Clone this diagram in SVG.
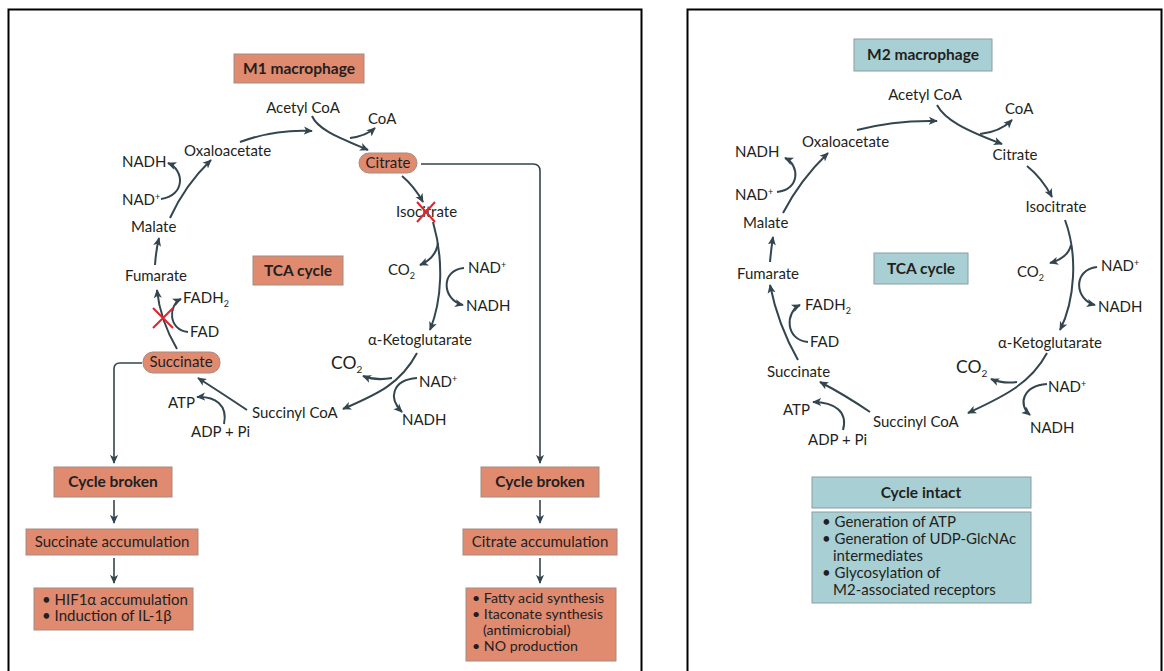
<svg xmlns="http://www.w3.org/2000/svg" width="1164" height="671" viewBox="0 0 1164 671">
<defs>
<marker id="ah" viewBox="0 0 10 10" refX="9" refY="5" markerWidth="9" markerHeight="9" orient="auto" markerUnits="userSpaceOnUse">
<path d="M0,0.5 L10,5 L0,9.5 L2.5,5 z" fill="#33454e"/>
</marker>
<style>
.t{font-family:Lato,"Open Sans","Liberation Sans",sans-serif;font-size:15px;fill:#231f20}
.b{font-weight:bold;font-size:15.5px}
.c{text-anchor:middle}
.big{font-size:17.5px}
.sm{font-size:14.2px}
.red{fill:#e08a70;stroke:#a58a80;stroke-width:1}
.blue{fill:#a8cfd4;stroke:#8a9ea2;stroke-width:1}
.ar{fill:none;stroke:#33454e;stroke-width:2;marker-end:url(#ah)}
.fl{fill:none;stroke:#33454e;stroke-width:1.6;marker-end:url(#ah)}
.x{stroke:#e0242a;stroke-width:2;fill:none}
.panel{fill:none;stroke:#000;stroke-width:2}
</style>
</defs>
<rect width="1164" height="671" fill="#fff"/>
<rect class="panel" x="8.5" y="9.5" width="633" height="700"/>
<rect class="panel" x="687.5" y="9.5" width="474" height="700"/>

<!-- Connectors -->
<g id="connectors">
<!-- left cycle -->
<path class="ar" d="M240,142 Q275,129 312,131"/>
<path class="ar" d="M312,116 C318,130 340,138 368,150"/>
<path class="ar" d="M350,138 Q366,136 375,128"/>
<path class="ar" d="M402,176 Q414,186 423,202"/>
<path class="ar" d="M433,222 C444,260 442,300 430,330"/>
<path class="ar" d="M438,243 Q436,258 420,265"/>
<path class="ar" d="M464,268 C440,270 442,300 463,305"/>
<path class="ar" d="M417,353 C400,385 375,395 343,409"/>
<path class="ar" d="M392,378 Q376,381 363,376"/>
<path class="ar" d="M417,378 C392,380 388,398 402,412"/>
<path class="ar" d="M247,410 Q220,392 198,378"/>
<path class="ar" d="M224,424 C228,405 215,396 197,397"/>
<path class="ar" d="M177,349 Q160,320 157,290"/>
<path class="ar" d="M188,332 C168,330 168,305 181,299"/>
<path class="ar" d="M155,265 Q156,250 159,238"/>
<path class="ar" d="M170,218 Q185,185 211,160"/>
<path class="ar" d="M161,199 C185,196 185,170 168,163"/>
<!-- left branches -->
<path class="fl" d="M142,363 L120,363 Q114,363 114,369 L114,463"/>
<path class="fl" d="M421,164 L533,164 Q540,164 540,171 L540,463"/>
<path class="fl" d="M114,500 L114,523"/>
<path class="fl" d="M114,558 L114,583"/>
<path class="fl" d="M540,500 L540,523"/>
<path class="fl" d="M540,558 L540,583"/>
<!-- right cycle -->
<path class="ar" d="M857,130 Q895,120 937,121"/>
<path class="ar" d="M937,105 C945,120 965,130 1002,144"/>
<path class="ar" d="M980,134 Q1000,132 1012,120"/>
<path class="ar" d="M1027,166 Q1042,178 1052,197"/>
<path class="ar" d="M1065,220 C1078,255 1075,300 1060,330"/>
<path class="ar" d="M1071,245 Q1068,258 1050,263"/>
<path class="ar" d="M1097,267 C1072,270 1075,300 1095,305"/>
<path class="ar" d="M1047,353 C1030,385 1000,398 968,413"/>
<path class="ar" d="M1017,382 Q1003,384 991,379"/>
<path class="ar" d="M1047,384 C1022,386 1018,405 1030,415"/>
<path class="ar" d="M870,412 Q845,395 820,382"/>
<path class="ar" d="M843,430 C848,412 835,402 813,402"/>
<path class="ar" d="M798,360 Q778,325 770,285"/>
<path class="ar" d="M808,342 C785,340 785,312 800,305"/>
<path class="ar" d="M770,262 Q771,250 773,237"/>
<path class="ar" d="M783,213 Q800,180 828,153"/>
<path class="ar" d="M777,192 C800,190 800,165 785,158"/>
</g>

<!-- Left panel nodes -->
<g id="m1-title"><rect class="red" x="234" y="54" width="130" height="29"/><text class="t b c" x="299" y="74">M1 macrophage</text></g>
<g id="m1-tca"><rect class="red" x="253" y="256" width="90" height="29"/><text class="t b c" x="298" y="276">TCA cycle</text></g>
<g id="m1-acetylcoa"><text class="t c" x="303" y="113">Acetyl CoA</text></g>
<g id="m1-coa"><text class="t" x="368" y="124">CoA</text></g>
<g id="m1-citrate"><rect class="red" x="359" y="153" width="58" height="20" rx="10"/><text class="t c" x="388" y="168">Citrate</text></g>
<g id="m1-isocitrate"><text class="t" x="396" y="217">Isocitrate</text>
<path class="x" d="M417,202 L435,222 M435,202 L417,222"/></g>
<g id="m1-co2a"><text class="t" x="388" y="275">CO<tspan font-size="9" dy="4">2</tspan></text></g>
<g id="m1-nad1"><text class="t" x="468" y="273">NAD<tspan font-size="9" dy="-5">+</tspan></text></g>
<g id="m1-nadh1"><text class="t" x="466" y="311">NADH</text></g>
<g id="m1-akg"><text class="t c" x="420" y="345">α-Ketoglutarate</text></g>
<g id="m1-co2b"><text class="t big" x="331" y="369">CO<tspan font-size="10" dy="4">2</tspan></text></g>
<g id="m1-nad2"><text class="t" x="419" y="387">NAD<tspan font-size="9" dy="-5">+</tspan></text></g>
<g id="m1-nadh2"><text class="t" x="402" y="425">NADH</text></g>
<g id="m1-succinylcoa"><text class="t" x="252" y="418">Succinyl CoA</text></g>
<g id="m1-atp"><text class="t" x="168" y="408">ATP</text></g>
<g id="m1-adp"><text class="t" x="191" y="437">ADP + Pi</text></g>
<g id="m1-succinate"><rect class="red" x="143" y="352" width="77" height="21" rx="10"/><text class="t c" x="181" y="367">Succinate</text></g>
<g id="m1-fad"><text class="t" x="190" y="337">FAD</text></g>
<g id="m1-fadh2"><text class="t" x="183" y="303">FADH<tspan font-size="9" dy="4">2</tspan></text>
<path class="x" d="M153,308 L173,328 M173,308 L153,328"/></g>
<g id="m1-fumarate"><text class="t" x="125" y="281">Fumarate</text></g>
<g id="m1-malate"><text class="t" x="131" y="232">Malate</text></g>
<g id="m1-nad3"><text class="t" x="122" y="205">NAD<tspan font-size="9" dy="-5">+</tspan></text></g>
<g id="m1-nadh3"><text class="t" x="122" y="167">NADH</text></g>
<g id="m1-oxaloacetate"><text class="t" x="184" y="156">Oxaloacetate</text></g>
<g id="m1-broken-l"><rect class="red" x="54" y="467" width="118" height="30"/><text class="t b c" x="113" y="487">Cycle broken</text></g>
<g id="m1-succ-acc"><rect class="red" x="26" y="529" width="172" height="26"/><text class="t c" x="112" y="547">Succinate accumulation</text></g>
<g id="m1-hif"><rect class="red" x="34" y="588" width="159" height="42"/><text class="t" x="42" y="605">• HIF1α accumulation</text><text class="t" x="42" y="621">• Induction of IL-1β</text></g>
<g id="m1-broken-r"><rect class="red" x="481" y="467" width="118" height="30"/><text class="t b c" x="540" y="487">Cycle broken</text></g>
<g id="m1-cit-acc"><rect class="red" x="463" y="529" width="154" height="26"/><text class="t c" x="540" y="547">Citrate accumulation</text></g>
<g id="m1-fatty"><rect class="red" x="466" y="588" width="150" height="73"/>
<text class="t sm" x="472" y="603">• Fatty acid synthesis</text>
<text class="t sm" x="472" y="619">• Itaconate synthesis</text>
<text class="t sm" x="483" y="635">(antimicrobial)</text>
<text class="t sm" x="472" y="651">• NO production</text></g>

<!-- Right panel nodes -->
<g id="m2-title"><rect class="blue" x="854" y="39" width="138" height="32"/><text class="t b c" x="923" y="60">M2 macrophage</text></g>
<g id="m2-tca"><rect class="blue" x="874" y="253" width="94" height="31"/><text class="t b c" x="921" y="274">TCA cycle</text></g>
<g id="m2-acetylcoa"><text class="t c" x="925" y="100">Acetyl CoA</text></g>
<g id="m2-coa"><text class="t" x="1005" y="114">CoA</text></g>
<g id="m2-citrate"><text class="t c" x="1015" y="160">Citrate</text></g>
<g id="m2-isocitrate"><text class="t c" x="1056" y="212">Isocitrate</text></g>
<g id="m2-co2a"><text class="t" x="1017" y="277">CO<tspan font-size="9" dy="4">2</tspan></text></g>
<g id="m2-nad1"><text class="t" x="1101" y="271">NAD<tspan font-size="9" dy="-5">+</tspan></text></g>
<g id="m2-nadh1"><text class="t" x="1098" y="312">NADH</text></g>
<g id="m2-akg"><text class="t c" x="1050" y="348">α-Ketoglutarate</text></g>
<g id="m2-co2b"><text class="t big" x="956" y="373">CO<tspan font-size="10" dy="4">2</tspan></text></g>
<g id="m2-nad2"><text class="t" x="1048" y="392">NAD<tspan font-size="9" dy="-5">+</tspan></text></g>
<g id="m2-nadh2"><text class="t" x="1030" y="433">NADH</text></g>
<g id="m2-succinylcoa"><text class="t" x="873" y="427">Succinyl CoA</text></g>
<g id="m2-atp"><text class="t" x="783" y="415">ATP</text></g>
<g id="m2-adp"><text class="t" x="808" y="445">ADP + Pi</text></g>
<g id="m2-succinate"><text class="t" x="767" y="377">Succinate</text></g>
<g id="m2-fad"><text class="t" x="810" y="347">FAD</text></g>
<g id="m2-fadh2"><text class="t" x="805" y="310">FADH<tspan font-size="9" dy="4">2</tspan></text></g>
<g id="m2-fumarate"><text class="t" x="737" y="279">Fumarate</text></g>
<g id="m2-malate"><text class="t" x="743" y="228">Malate</text></g>
<g id="m2-nad3"><text class="t" x="735" y="200">NAD<tspan font-size="9" dy="-5">+</tspan></text></g>
<g id="m2-nadh3"><text class="t" x="735" y="157">NADH</text></g>
<g id="m2-oxaloacetate"><text class="t" x="802" y="147">Oxaloacetate</text></g>
<g id="m2-intact"><rect class="blue" x="812" y="477" width="219" height="31"/><text class="t b c" x="921" y="498">Cycle intact</text></g>
<g id="m2-list"><rect class="blue" x="812" y="512" width="219" height="91"/>
<text class="t" x="822" y="527">• Generation of ATP</text>
<text class="t" x="822" y="544">• Generation of UDP-GlcNAc</text>
<text class="t" x="833" y="561">intermediates</text>
<text class="t" x="822" y="578">• Glycosylation of</text>
<text class="t" x="833" y="595">M2-associated receptors</text></g>
</svg>
